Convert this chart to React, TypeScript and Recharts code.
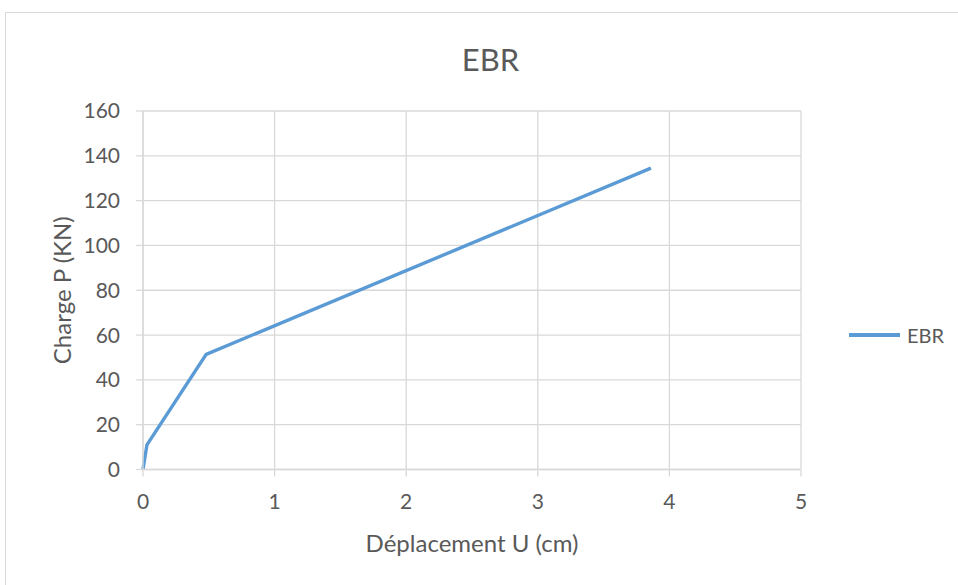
import { LineChart, Line, XAxis, YAxis, CartesianGrid } from 'recharts'

// Load / displacement curve, EBR specimen
const displacement = [0, 0.03, 0.48, 3.86]
const load = [0, 11, 51.4, 134.5]
const xTicks = [0, 1, 2, 3, 4, 5]
const yTicks = [0, 20, 40, 60, 80, 100, 120, 140, 160]

const data = displacement.map((u, i) => ({ u, p: load[i] }))

const FONT = 'Lato, "Open Sans", sans-serif'
const TEXT = '#595959'
const GRID = '#d9d9d9'
const BLUE = '#5B9BD5'

export default function App() {
  return (
    <div style={{ position: 'fixed', left: 0, top: 0, width: 958, height: 585, background: '#fff', overflow: 'hidden' }}>
      {/* chart frame, runs past the right and bottom edges */}
      <div
        style={{
          position: 'absolute',
          left: 5,
          top: 12,
          width: 980,
          height: 620,
          border: '1px solid #d9d9d9',
          boxSizing: 'border-box',
        }}
      />
      <div
        style={{
          position: 'absolute',
          left: 390,
          width: 201,
          top: 39,
          lineHeight: '40px',
          textAlign: 'center',
          fontFamily: FONT,
          fontSize: 31,
          color: TEXT,
        }}
      >
        EBR
      </div>
      <div style={{ position: 'absolute', left: 0, top: 0 }}>
        <LineChart width={958} height={585} data={data} margin={{ top: 111, right: 157, bottom: 84.5, left: 0 }}>
          <CartesianGrid stroke={GRID} strokeWidth={1.3} />
          <XAxis
            dataKey="u"
            type="number"
            domain={[0, 5]}
            ticks={xTicks}
            interval={0}
            height={31}
            stroke={GRID}
            strokeWidth={1.3}
            tickSize={7}
            tickMargin={18}
            tick={{ fill: TEXT, fontSize: 21, fontFamily: FONT }}
            label={{
              value: 'Déplacement U (cm)',
              position: 'bottom',
              offset: 34,
              fill: TEXT,
              fontSize: 24,
              fontFamily: FONT,
            }}
          />
          <YAxis
            type="number"
            domain={[0, 160]}
            ticks={yTicks}
            interval={0}
            width={143}
            stroke={GRID}
            strokeWidth={1.3}
            tickSize={7}
            tickMargin={16}
            tick={{ fill: TEXT, fontSize: 21, fontFamily: FONT }}
            label={{
              value: 'Charge P (KN)',
              angle: -90,
              position: 'insideLeft',
              offset: 62,
              style: { textAnchor: 'middle' },
              fill: TEXT,
              fontSize: 24,
              fontFamily: FONT,
            }}
          />
          <Line
            type="linear"
            dataKey="p"
            name="EBR"
            stroke={BLUE}
            strokeWidth={3.4}
            dot={false}
            isAnimationActive={false}
          />
        </LineChart>
      </div>
      <div
        style={{
          position: 'absolute',
          left: 849,
          top: 322,
          height: 26,
          display: 'flex',
          alignItems: 'center',
          fontFamily: FONT,
          fontSize: 20,
          color: TEXT,
        }}
      >
        <span style={{ display: 'inline-block', width: 51, height: 3.4, background: BLUE, marginRight: 7 }} />
        EBR
      </div>
    </div>
  )
}
